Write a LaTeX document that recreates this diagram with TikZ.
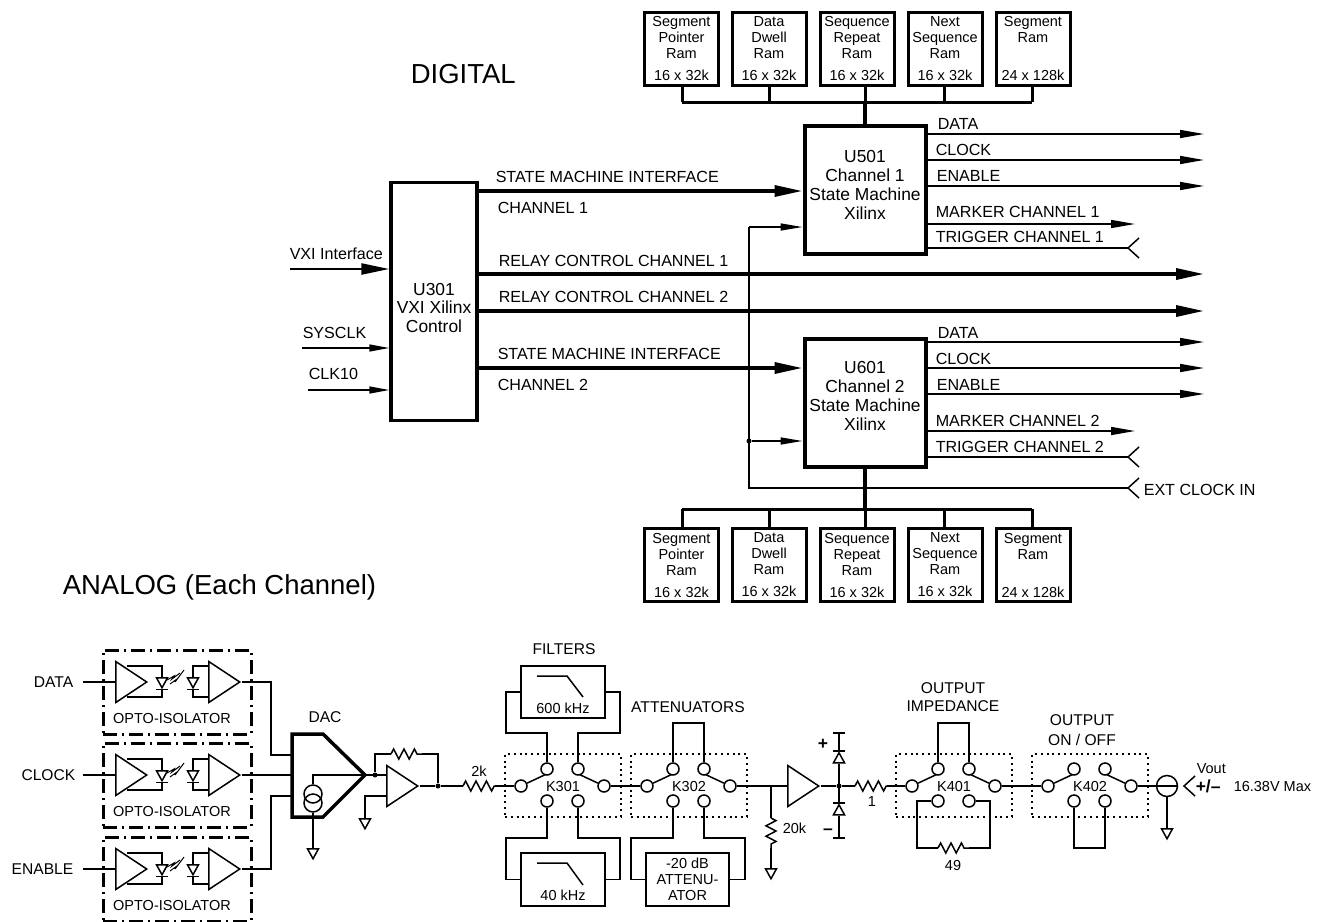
\documentclass[tikz,border=0pt]{standalone}
\usepackage{fontspec}
\setmainfont{Liberation Sans}
\usetikzlibrary{arrows.meta,shapes.geometric,decorations.pathmorphing}

\tikzset{
  small text/.style={font=\fontsize{14.5}{16}\selectfont,inner sep=0pt,align=center},
  wire label/.style={font=\fontsize{16.1}{18}\selectfont,inner sep=0pt,anchor=west},
  mid label/.style={font=\fontsize{15.6}{18}\selectfont,inner sep=0pt,align=center},
  title text/.style={font=\fontsize{27.5}{30}\selectfont,inner sep=0pt,anchor=west},
  chip text/.style={font=\fontsize{17.4}{18.8}\selectfont,inner sep=0pt,align=center},
  amp node/.style={draw,isosceles triangle,isosceles triangle stretches,shape border uses incircle=false,minimum width=41pt,minimum height=31pt,inner sep=0pt,anchor=west},
  led node/.style={draw,isosceles triangle,isosceles triangle stretches,shape border uses incircle=false,shape border rotate=270,minimum width=11pt,minimum height=10pt,inner sep=0pt},
  gnd node/.style={draw,isosceles triangle,isosceles triangle stretches,shape border uses incircle=false,shape border rotate=270,minimum width=11pt,minimum height=10pt,inner sep=0pt,anchor=north},
  term node/.style={circle,draw,fill=white,minimum size=12pt,inner sep=0pt},
  dot node/.style={circle,fill,minimum size=5pt,inner sep=0pt},
  res line/.style={decorate,decoration={zigzag,segment length=10.4pt,amplitude=5pt}},
  thin arrow/.style={-{Triangle[length=24pt,width=8pt]}},
  bus arrow/.style={line width=3.4pt,-{Triangle[length=28pt,width=11pt]}},
  chevron/.pic={\draw (11,-10) -- (0,0) -- (11,10);}
}

% opto-isolator, #1 name prefix, #2 row offset
\newcommand{\optoiso}[2]{
\begin{scope}[shift={(0,#2)},name prefix=#1]
\node[draw,line width=3pt,dash pattern=on 14pt off 5pt on 2pt off 5pt,minimum width=148pt,minimum height=84pt,inner sep=0pt] (box) at (177,692) {};
\node[small text] (txt) at (172,718) {OPTO-ISOLATOR};
\node[amp node] (a1) at (115,682) {};
\node[amp node] (a2) at (208,682) {};
\node[led node] (d1) at (162,681) {};
\node[led node] (d2) at (193,681) {};
\coordinate (c1) at (127,666);
\coordinate (c2) at (127,697);
\draw (c1) -| (d1.north);
\draw (d1.apex) |- (c2);
\draw (a2.west |- c1) -| (d2.north);
\draw (d2.apex) |- (a2.west |- c2);
\draw ([xshift=-6pt]d1.apex) -- ([xshift=6pt]d1.apex);
\draw ([xshift=-6pt]d2.apex) -- ([xshift=6pt]d2.apex);
\draw[line width=1pt] (167,680) -- (174,676) -- (172,679) -- (180,673);
\draw[line width=1pt] (170,684) -- (177,679) -- (175,682) -- (184,670);
\end{scope}
}

% relay, #1 name prefix, #2 left edge, #3 text
\newcommand{\relaybox}[3]{
\begin{scope}[shift={(#2,0)},name prefix=#1]
\node[draw,line width=1.8pt,dash pattern=on 2pt off 3.8pt,minimum width=116pt,minimum height=63pt,inner sep=0pt] (box) at (58,785.5) {};
\node[small text] (txt) at (58,786) {#3};
\node[term node] (l) at (16,786) {};
\node[term node] (r) at (99,786) {};
\coordinate (arml) at (48,771);
\coordinate (armr) at (67,771);
\draw (l) -- (arml);
\draw (armr) -- (r);
\node[term node] (ul) at (42,769) {};
\node[term node] (ur) at (73,769) {};
\node[term node] (dl) at (42,801) {};
\node[term node] (dr) at (73,801) {};
\end{scope}
}

\begin{document}
\begin{tikzpicture}[x=1pt,y=-1pt,line width=1.5pt,
ram node/.style={draw,line width=3pt,minimum width=74pt,minimum height=73pt,inner sep=0pt,small text},
chip node/.style={draw,line width=4pt,minimum width=121pt,minimum height=128pt,inner sep=0pt}]
\useasboundingbox (0,0) rectangle (1322,921);
\begin{scope}
\node[title text] (digital) at (410,74) {DIGITAL};
\node[title text] (analog) at (62,587) {ANALOG (Each Channel)};
\node[ram node] (ram1) at (681.5,49) {Segment\\Pointer\\Ram\\[6pt]16 x 32k};
\node[ram node] (ram2) at (769,49) {Data\\Dwell\\Ram\\[6pt]16 x 32k};
\node[ram node] (ram3) at (857,49) {Sequence\\Repeat\\Ram\\[6pt]16 x 32k};
\node[ram node] (ram4) at (945,49) {Next\\Sequence\\Ram\\[6pt]16 x 32k};
\node[ram node] (ram5) at (1033,49) {Segment\\Ram\\[22pt]24 x 128k};
\node[ram node] (ram6) at (681.5,565) {Segment\\Pointer\\Ram\\[6pt]16 x 32k};
\node[ram node] (ram7) at (769,565) {Data\\Dwell\\Ram\\[6pt]16 x 32k};
\node[ram node] (ram8) at (857,565) {Sequence\\Repeat\\Ram\\[6pt]16 x 32k};
\node[ram node] (ram9) at (945,565) {Next\\Sequence\\Ram\\[6pt]16 x 32k};
\node[ram node] (ram10) at (1033,565) {Segment\\Ram\\[22pt]24 x 128k};
\node[chip node] (u501) at (865,189.5) {};
\node[chip text] (u501t) at (865,185) {U501\\Channel 1\\State Machine\\Xilinx};
\node[chip node] (u601) at (865,402.5) {};
\node[chip text] (u601t) at (865,396) {U601\\Channel 2\\State Machine\\Xilinx};
\node[draw,line width=3.5pt,minimum width=86pt,minimum height=238pt,inner sep=0pt] (u301) at (434,301.5) {};
\node[chip text] (u301t) at (434,308) {U301\\VXI Xilinx\\Control};
\end{scope}
\begin{scope}[every node/.style={wire label}]
\node (lb1) at (495,177) {STATE MACHINE INTERFACE};
\node (lb2) at (497,208) {CHANNEL 1};
\node (lb3) at (498,261) {RELAY CONTROL CHANNEL 1};
\node (lb4) at (498,297) {RELAY CONTROL CHANNEL 2};
\node (lb5) at (497,354) {STATE MACHINE INTERFACE};
\node (lb6) at (497,385) {CHANNEL 2};
\node (lb7) at (289,254) {VXI Interface};
\node (lb8) at (302,333) {SYSCLK};
\node (lb9) at (308,374) {CLK10};
\node (lb10) at (937,124) {DATA};
\node (lb11) at (935,150) {CLOCK};
\node (lb12) at (936,176) {ENABLE};
\node (lb13) at (935,212) {MARKER CHANNEL 1};
\node (lb14) at (935,237) {TRIGGER CHANNEL 1};
\node (lb15) at (937,333) {DATA};
\node (lb16) at (935,359) {CLOCK};
\node (lb17) at (936,385) {ENABLE};
\node (lb18) at (935,421) {MARKER CHANNEL 2};
\node (lb19) at (935,447) {TRIGGER CHANNEL 2};
\node (lb20) at (1143,490) {EXT CLOCK IN};
\end{scope}
\begin{scope}
\coordinate (top) at (865,102);
\coordinate (bot) at (865,509);
\draw[line width=3pt] (682,102) -- (1032,102);
\draw[line width=3pt] (682,509) -- (1032,509);
\draw[line width=3pt] (682,102) -- (682,85);
\draw[line width=3pt] (769,102) -- (769,85);
\draw[line width=3pt] (865,102) -- (865,85);
\draw[line width=3pt] (944,102) -- (944,85);
\draw[line width=3pt] (1032,102) -- (1032,85);
\draw[line width=3pt] (682,509) -- (682,529);
\draw[line width=3pt] (769,509) -- (769,529);
\draw[line width=3pt] (865,509) -- (865,529);
\draw[line width=3pt] (944,509) -- (944,529);
\draw[line width=3pt] (1032,509) -- (1032,529);
\draw[line width=4pt] (top) -- (u501.north);
\draw[line width=4pt] (u601.south) -- (bot);
\coordinate (s1) at (478,191);
\coordinate (s2) at (478,368);
\coordinate (s3) at (478,274);
\coordinate (s4) at (478,311);
\coordinate (t3) at (1204,274);
\coordinate (t4) at (1204,311);
\draw[bus arrow] (s1) -- (u501.west |- s1);
\draw[bus arrow] (s2) -- (u601.west |- s2);
\draw[bus arrow] (s3) -- (t3);
\draw[bus arrow] (s4) -- (t4);
\coordinate (vxi) at (290,269);
\coordinate (sys) at (302,348);
\coordinate (clk) at (308,390);
\draw[bus arrow,line width=2.4pt] (vxi) -- (u301.west |- vxi);
\draw[-{Triangle[length=20pt,width=7pt]}] (sys) -- (u301.west |- sys);
\draw[-{Triangle[length=20pt,width=7pt]}] (clk) -- (u301.west |- clk);
\coordinate (o1) at (1204,134);
\coordinate (o2) at (1204,160);
\coordinate (o3) at (1204,186);
\coordinate (o4) at (1135,224);
\coordinate (o5) at (1128,248);
\coordinate (o6) at (1204,342);
\coordinate (o7) at (1204,368);
\coordinate (o8) at (1204,394);
\coordinate (o9) at (1135,431);
\coordinate (o10) at (1128,457);
\coordinate (o11) at (1128,488);
\draw[thin arrow] (u501.east |- o1) -- (o1);
\draw[thin arrow] (u501.east |- o2) -- (o2);
\draw[thin arrow] (u501.east |- o3) -- (o3);
\draw[thin arrow] (u501.east |- o4) -- (o4);
\draw (u501.east |- o5) -- (o5);
\draw[thin arrow] (u601.east |- o6) -- (o6);
\draw[thin arrow] (u601.east |- o7) -- (o7);
\draw[thin arrow] (u601.east |- o8) -- (o8);
\draw[thin arrow] (u601.east |- o9) -- (o9);
\draw (u601.east |- o10) -- (o10);
\pic at (o5) {chevron};
\pic at (o10) {chevron};
\pic at (o11) {chevron};
\coordinate (e1) at (749,227);
\coordinate (e2) at (749,488);
\node[dot node] (e3) at (749,441) {};
\draw (o11) -- (e2) -- (e1);
\draw[-{Triangle[length=22pt,width=7pt]}] (e1) -- (u501.west |- e1);
\draw[-{Triangle[length=22pt,width=7pt]}] (e3) -- (u601.west |- e3);
\end{scope}
\optoiso{data-}{0}
\optoiso{clock-}{93}
\optoiso{enable-}{187}
\relaybox{k301-}{505}{K301}
\relaybox{k302-}{631}{K302}
\relaybox{k401-}{896}{K401}
\relaybox{k402-}{1032}{K402}
\begin{scope}[every node/.style={mid label}]
\node[anchor=east] (in1) at (74,682) {DATA};
\node[anchor=east] (in2) at (76,775) {CLOCK};
\node[anchor=east] (in3) at (74,869) {ENABLE};
\node (lb21) at (325,717) {DAC};
\node (lb22) at (564,649) {FILTERS};
\node (lb23) at (688,707) {ATTENUATORS};
\node (lb24) at (953,697) {OUTPUT\\IMPEDANCE};
\node (lb25) at (1082,730) {OUTPUT\\[2pt]ON / OFF};
\end{scope}
\begin{scope}[every node/.style={small text}]
\node (lb26) at (479,771) {2k};
\node[anchor=west] (lb27) at (782,828) {20k};
\node (lb28) at (872,802) {1};
\node (lb29) at (953,865) {49};
\node[anchor=west] (lb30) at (1196,769) {Vout};
\node[anchor=west] (lb31) at (1233,786) {16.38V Max};
\node[anchor=west,font=\fontsize{17.5}{18}\selectfont\bfseries] (lb32) at (1195,786) {+/–};
\node[font=\fontsize{17.5}{18}\selectfont\bfseries] (plus) at (823,744) {+};
\node[font=\fontsize{17.5}{18}\selectfont\bfseries] (minus) at (828,832) {–};
\node (f1t) at (563,708) {600 kHz};
\node (f2t) at (563,895) {40 kHz};
\node[draw,line width=1.5pt,minimum width=84pt,minimum height=52pt] (f1) at (563,692) {};
\node[draw,line width=1.5pt,minimum width=84pt,minimum height=53pt] (f2) at (563,879.5) {};
\node[draw,line width=1.5pt,minimum width=83pt,minimum height=53pt] (att) at (687.5,879.5) {-20 dB\\ATTENU-\\ATOR};
\end{scope}
\begin{scope}
\coordinate (in1c) at (83,682);
\coordinate (in2c) at (83,775);
\coordinate (in3c) at (83,869);
\draw (in1c) -- (data-a1.west);
\draw (in2c) -- (clock-a1.west);
\draw (in3c) -- (enable-a1.west);
\coordinate (dac1) at (292,734);
\coordinate (dac2) at (323,734);
\coordinate (dac3) at (365,775);
\coordinate (dac4) at (323,817);
\coordinate (dac5) at (292,817);
\draw[line width=3.5pt] (dac1) -- (dac2) -- (dac3) -- (dac4) -- (dac5) -- cycle;
\coordinate (w1) at (271,755);
\coordinate (w2) at (292,755);
\coordinate (w3) at (271,796);
\coordinate (w4) at (292,796);
\draw (data-a2.east) -| (w1) -- (w2);
\draw (clock-a2.east) -- (clock-a2.east -| w2);
\draw (enable-a2.east) -| (w3) -- (w4);
\node[circle,draw,minimum size=18pt,inner sep=0pt] (cs1) at (313,794) {};
\node[circle,draw,minimum size=18pt,inner sep=0pt] (cs2) at (313,803) {};
\node[gnd node] (g1) at (313,848) {};
\draw (cs1.north) |- (dac3);
\draw[line width=2.2pt] (cs2.south) -- (g1.north);
\node[dot node] (n1) at (375,775) {};
\node[dot node] (n2) at (438,786) {};
\node[amp node] (a3) at (386,786) {};
\node[gnd node] (g2) at (365,818) {};
\coordinate (a3p) at (386,796);
\coordinate (r2a) at (391,754);
\coordinate (r2b) at (422,754);
\coordinate (r3a) at (463,786);
\coordinate (r3b) at (495,786);
\draw (dac3) -- (a3.west |- n1);
\draw (g2.north) |- (a3p);
\draw (n1) |- (r2a);
\draw[res line] (r2a) -- (r2b);
\draw (r2b) -| (n2);
\draw (a3.east) -- (n2) -- (r3a);
\draw[res line] (r3a) -- (r3b);
\draw (r3b) -- (k301-l);
\draw (k301-r) -- (k302-l);
\coordinate (f1l) at (506,733);
\coordinate (f1r) at (620,733);
\coordinate (f2l) at (506,838);
\coordinate (f2r) at (620,838);
\draw (k301-ul) |- (f1l) |- (f1.west);
\draw (k301-ur) |- (f1r) |- (f1.east);
\draw (k301-dl) |- (f2l) |- (f2.west);
\draw (k301-dr) |- (f2r) |- (f2.east);
\coordinate (f1a) at (537,676);
\coordinate (f1b) at (567,676);
\coordinate (f1c) at (583,697);
\coordinate (f2a) at (537,863);
\coordinate (f2b) at (567,863);
\coordinate (f2c) at (583,885);
\draw (f1a) -- (f1b) -- (f1c);
\draw (f2a) -- (f2b) -- (f2c);
\coordinate (l1) at (687,723);
\draw (k302-ul) |- (l1) -| (k302-ur);
\coordinate (at1) at (631,838);
\coordinate (at2) at (745,838);
\draw (k302-dl) |- (at1) |- (att.west);
\draw (k302-dr) |- (at2) |- (att.east);
\node[amp node] (a4) at (787,786) {};
\coordinate (j1) at (771,786);
\coordinate (r4a) at (771,818);
\coordinate (r4b) at (771,848);
\node[gnd node] (g3) at (771,868) {};
\draw (k302-r) -- (a4.west);
\draw (j1) -- (r4a);
\draw[res line] (r4a) -- (r4b);
\draw (r4b) -- (g3.north);
\node[dot node] (n3) at (839,786) {};
\node[led node,shape border rotate=90] (d1) at (839,759.5) {};
\node[led node,shape border rotate=90] (d2) at (839,811.5) {};
\coordinate (b1) at (839,733);
\coordinate (b2) at (839,838);
\coordinate (r5a) at (855,786);
\coordinate (r5b) at (887,786);
\draw (d1.apex) -- (b1);
\draw (d2.south) -- (b2);
\draw[line width=2.4pt] (d1.south) -- (d2.apex);
\draw ([xshift=-6pt]b1) -- ([xshift=6pt]b1);
\draw ([xshift=-6pt]b2) -- ([xshift=6pt]b2);
\draw ([xshift=-6pt]d1.apex) -- ([xshift=6pt]d1.apex);
\draw ([xshift=-6pt]d2.apex) -- ([xshift=6pt]d2.apex);
\draw (a4.east) -- (n3) -- (r5a);
\draw[res line] (r5a) -- (r5b);
\draw (r5b) -- (k401-l);
\coordinate (l2) at (953,723);
\draw (k401-ul) |- (l2) -| (k401-ur);
\coordinate (w9) at (917,848);
\coordinate (r6a) at (938,848);
\coordinate (r6b) at (969,848);
\coordinate (w10) at (990,848);
\draw (k401-dl) -| (w9) -- (r6a);
\draw[res line] (r6a) -- (r6b);
\draw (r6b) -- (w10) |- (k401-dr);
\draw (k401-r) -- (k402-l);
\coordinate (l3) at (1089,848);
\draw (k402-dl) |- (l3) -| (k402-dr);
\node[circle,draw,minimum size=21pt,inner sep=0pt] (vc) at (1167,786) {};
\coordinate (vo) at (1178,786);
\coordinate (vt) at (1184,786);
\node[gnd node] (g4) at (1167,828) {};
\draw (k402-r) -- (vo);
\draw (vc.south) -- (g4.north);
\pic at (vt) {chevron};
\end{scope}
\end{tikzpicture}
\end{document}
